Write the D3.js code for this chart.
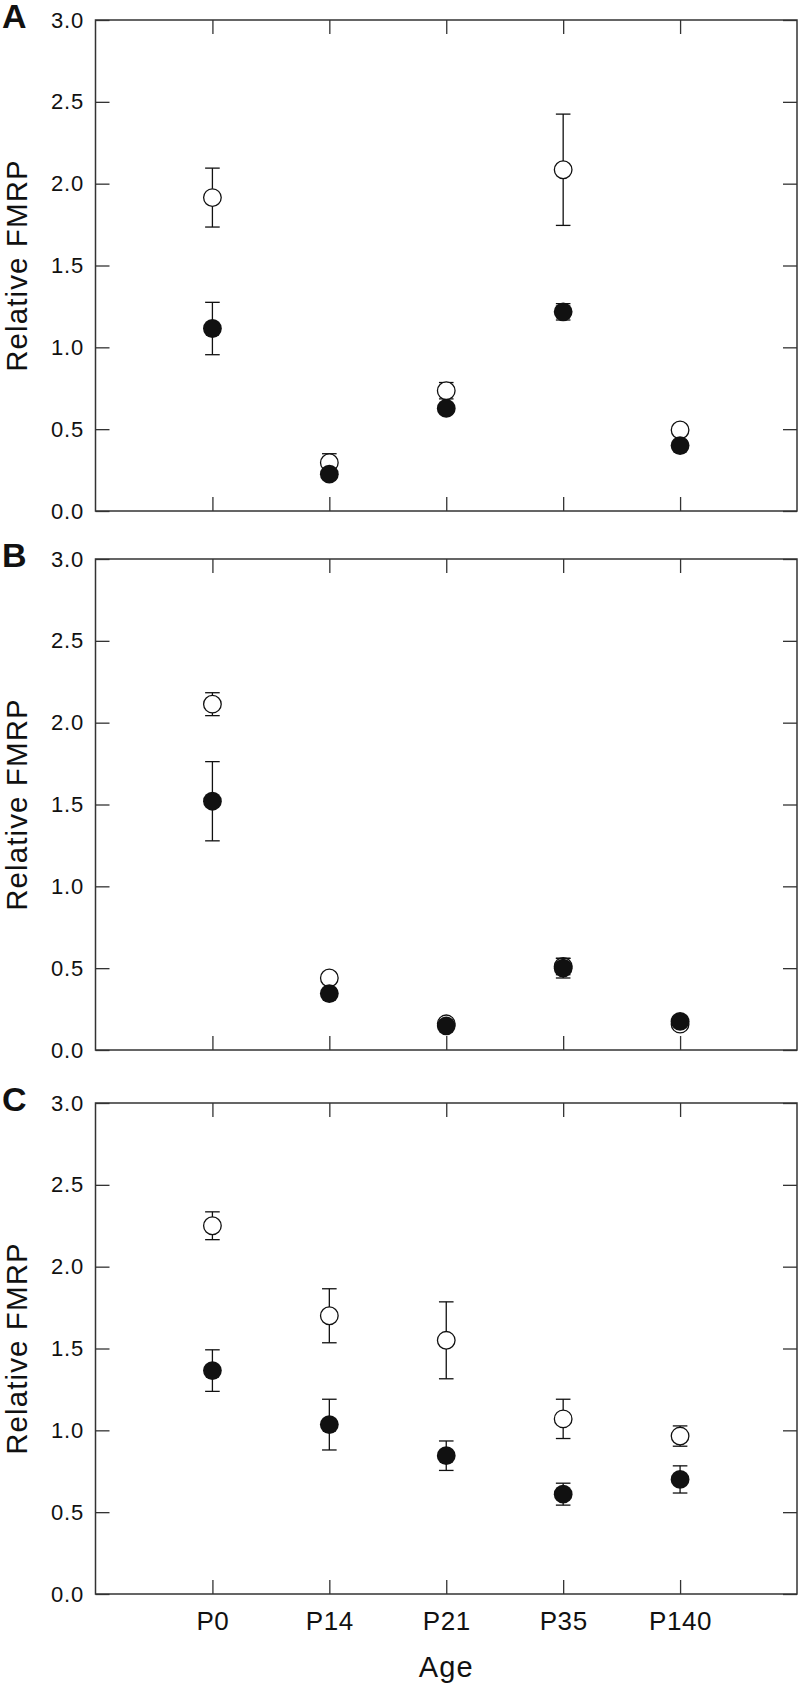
<!DOCTYPE html>
<html lang="en">
<head>
<meta charset="UTF-8">
<title>Relative FMRP by age</title>
<style>
  body { margin: 0; background: #fff; }
  svg  { display: block; }
  text { font-family: "Liberation Sans", Arial, sans-serif; fill: #111; }
  .frame { fill: none; stroke: #333; stroke-width: 1.5; }
  .tick line { stroke: #333; stroke-width: 1.3; }
  .err  { stroke: #111; stroke-width: 1.3; }
</style>
</head>
<body>
<svg id="fig" width="800" height="1686"></svg>

<script src="https://d3js.org/d3.v7.min.js"></script>
<script>
/* ---------------- Data ---------------- */
const ages = ["P0", "P14", "P21", "P35", "P140"];
const yTicks = [0, 0.5, 1, 1.5, 2, 2.5, 3];

// panel A
const aOpenMean   = [1.915, 0.295, 0.735, 2.085, 0.495];
const aOpenErr    = [0.18, 0.055, 0.05, 0.34, 0.03];
const aFilledMean = [1.115, 0.225, 0.627, 1.217, 0.40];
const aFilledErr  = [0.16, 0.03, 0.03, 0.05, 0.03];

// panel B
const bOpenMean   = [2.113, 0.44, 0.16, 0.51, 0.158];
const bOpenErr    = [0.07, 0.03, 0.02, 0.05, 0.02];
const bFilledMean = [1.52, 0.345, 0.148, 0.50, 0.175];
const bFilledErr  = [0.242, 0.03, 0.02, 0.06, 0.02];

// panel C
const cOpenMean   = [2.25, 1.70, 1.55, 1.07, 0.965];
const cOpenErr    = [0.085, 0.165, 0.235, 0.12, 0.062];
const cFilledMean = [1.365, 1.035, 0.845, 0.61, 0.70];
const cFilledErr  = [0.127, 0.155, 0.09, 0.067, 0.083];

/* ---------------- Layout ---------------- */
const LEFT = 95.5, RIGHT = 797;
const TICK = 14, CAP = 7.3, R = 9.4;

const panels = [
  {letter: "A", top: 20,   bottom: 511,  open: [aOpenMean, aOpenErr], filled: [aFilledMean, aFilledErr]},
  {letter: "B", top: 559,  bottom: 1050, open: [bOpenMean, bOpenErr], filled: [bFilledMean, bFilledErr]},
  {letter: "C", top: 1103, bottom: 1594, open: [cOpenMean, cOpenErr], filled: [cFilledMean, cFilledErr], labels: true}
];

const svg = d3.select("#fig");
const x = d3.scaleLinear().domain([0, 6]).range([LEFT, RIGHT]);

panels.forEach(p => {
  const y = d3.scaleLinear().domain([0, 3]).range([p.bottom, p.top]);
  const g = svg.append("g");

  // inward ticks on all four sides
  const left = g.append("g").attr("transform", `translate(${LEFT},0)`)
    .call(d3.axisLeft(y).tickValues(yTicks).tickSize(-TICK).tickPadding(11.5)
      .tickFormat(d3.format(".1f")));
  left.selectAll("text").style("font-size", "22px").style("letter-spacing", "0.8px");

  g.append("g").attr("transform", `translate(${RIGHT},0)`)
    .call(d3.axisRight(y).tickValues(yTicks).tickSize(-TICK).tickFormat(""));

  const pos = ages.map((a, i) => i + 1);
  const bottom = g.append("g").attr("transform", `translate(0,${p.bottom})`)
    .call(d3.axisBottom(x).tickValues(pos).tickSize(-TICK).tickPadding(18)
      .tickFormat(p.labels ? (d => ages[d - 1]) : ""));
  bottom.selectAll("text").style("font-size", "26px").style("letter-spacing", "0.6px");

  g.append("g").attr("transform", `translate(0,${p.top})`)
    .call(d3.axisTop(x).tickValues(pos).tickSize(-TICK).tickFormat(""));

  g.selectAll(".domain").remove();

  g.append("rect").attr("class", "frame")
    .attr("x", LEFT).attr("y", p.top)
    .attr("width", RIGHT - LEFT).attr("height", p.bottom - p.top);

  // panel letter
  g.append("text")
    .attr("x", 2).attr("y", p.top + 8)
    .style("font-size", "34px").style("font-weight", "bold")
    .text(p.letter);

  // y label
  g.append("text")
    .attr("transform", `translate(27,${(p.top + p.bottom) / 2}) rotate(-90)`)
    .attr("text-anchor", "middle")
    .style("font-size", "29.5px").style("letter-spacing", "1.1px")
    .text("Relative FMRP");

  // series: open first, filled drawn on top
  [["open", p.open], ["filled", p.filled]].forEach(([kind, [mean, err]]) => {
    const data = ages.map((a, i) => ({i: i + 1, m: mean[i], e: err[i]}));
    const s = g.append("g");
    const eb = s.selectAll("g.eb").data(data).enter().append("g").attr("class", "eb");
    eb.append("line").attr("class", "err")
      .attr("x1", d => x(d.i)).attr("x2", d => x(d.i))
      .attr("y1", d => y(d.m - d.e)).attr("y2", d => y(d.m + d.e));
    eb.append("line").attr("class", "err")
      .attr("x1", d => x(d.i) - CAP).attr("x2", d => x(d.i) + CAP)
      .attr("y1", d => y(d.m + d.e)).attr("y2", d => y(d.m + d.e));
    eb.append("line").attr("class", "err")
      .attr("x1", d => x(d.i) - CAP).attr("x2", d => x(d.i) + CAP)
      .attr("y1", d => y(d.m - d.e)).attr("y2", d => y(d.m - d.e));
    s.selectAll("circle").data(data).enter().append("circle")
      .attr("cx", d => x(d.i)).attr("cy", d => y(d.m))
      .attr("r", kind === "open" ? R - 0.6 : R)
      .attr("fill", kind === "open" ? "#fff" : "#111")
      .attr("stroke", "#111")
      .attr("stroke-width", kind === "open" ? 1.3 : 0);
  });
});

// x axis title
svg.append("text")
  .attr("x", x(3)).attr("y", 1677)
  .attr("text-anchor", "middle")
  .style("font-size", "29px").style("letter-spacing", "1.2px")
  .text("Age");
</script>
</body>
</html>
